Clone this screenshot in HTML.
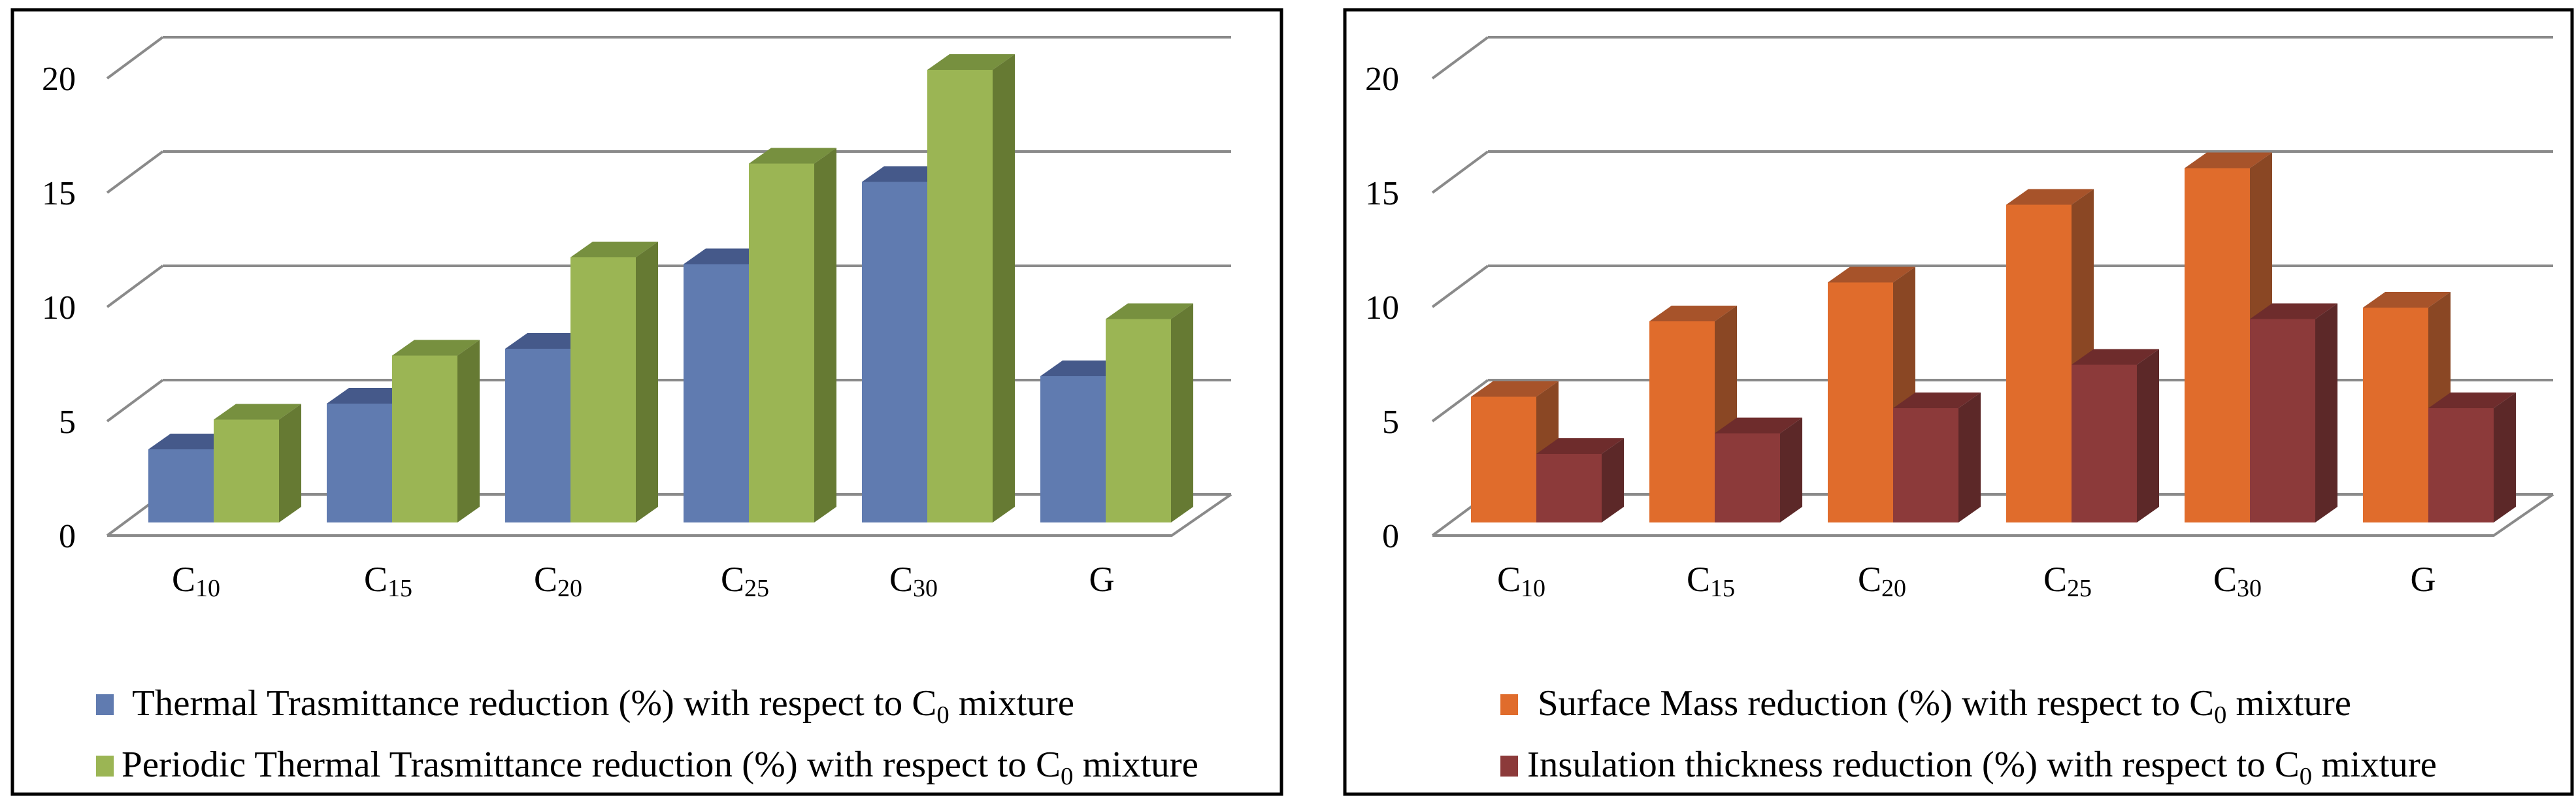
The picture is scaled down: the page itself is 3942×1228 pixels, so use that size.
<!DOCTYPE html>
<html><head><meta charset="utf-8"><style>
html,body{margin:0;padding:0;background:#fff;}
svg{display:block;font-family:"Liberation Serif",serif;}
</style></head><body>
<svg id="svg" width="3942" height="1228" viewBox="0 0 3942 1228"></svg>
<script>
const categories = ["C10","C15","C20","C25","C30","G"];
const catBase = ["C","C","C","C","C","G"];
const catSub = ["10","15","20","25","30",""];
const thermalTrans = [3.2, 5.2, 7.6, 11.3, 14.9, 6.4];
const periodicTrans = [4.5, 7.3, 11.6, 15.7, 19.8, 8.9];
const surfaceMass = [5.5, 8.8, 10.5, 13.9, 15.5, 9.4];
const insulation = [3.0, 3.9, 5.0, 6.9, 8.9, 5.0];
const yTicks = [0, 5, 10, 15, 20];
const yTickLabels = ["0","5","10","15","20"];

const NS = "http://www.w3.org/2000/svg";
const svg = document.getElementById('svg');
function mk(tag, attrs, parent){
  const e = document.createElementNS(NS, tag);
  for (const k in attrs) e.setAttribute(k, attrs[k]);
  (parent||svg).appendChild(e);
  return e;
}
const PX = 35, BASE = 800, DX = 34, DY = 24;
function yScale(v){ return BASE - v*PX; }

function chart(cfg){
  const g = mk('g', {});
  
  
  const border = mk('rect', {x:cfg.bx, y:15, width:cfg.bw, height:1201, fill:'none', stroke:'#000', 'stroke-width':5}, g);
  
  
  const grid = mk('g', {stroke:'#8a8a8a', 'stroke-width':4, fill:'none'}, g);
  
  
  yTicks.forEach((t, i) => {
    const yb = 757 - t*PX;
    mk('line', {x1:cfg.backL, y1:yb, x2:cfg.backR, y2:yb}, grid);
    mk('line', {x1:cfg.backL, y1:yb, x2:cfg.backL-85, y2:yb+63}, grid);
    const lab = mk('text', {x:cfg.tickX, y:yb+63+18, 'text-anchor':'end', 'font-size':52, fill:'#000'}, g);
    lab.textContent = yTickLabels[i];
    
    
  });
  mk('polyline', {points:`${cfg.backL-85},820 ${cfg.backR-91},820 ${cfg.backR},757`}, grid);
  categories.forEach((c, i) => {
    const x0 = cfg.x0 + 273*i;
    [[cfg.s1, cfg.c1], [cfg.s2, cfg.c2]].forEach(([ser, col], j) => {
      const x = x0 + 100*j, w = 100, yt = yScale(ser[i]);
      const bg = mk('g', {}, g);
      
      
      mk('rect', {x:x, y:yt, width:w, height:BASE-yt, fill:col[0]}, bg);
      mk('polygon', {points:`${x},${yt} ${x+DX},${yt-DY} ${x+w+DX},${yt-DY} ${x+w},${yt}`, fill:col[1]}, bg);
      mk('polygon', {points:`${x+w},${yt} ${x+w+DX},${yt-DY} ${x+w+DX},${BASE-DY} ${x+w},${BASE}`, fill:col[2]}, bg);
    });
    const t = mk('text', {x:cfg.labX[i], y:905, 'text-anchor':'middle', 'font-size':54, fill:'#000'}, g);
    
    
    const a = mk('tspan', {}, t); a.textContent = catBase[i];
    if (catSub[i]) { const b = mk('tspan', {'font-size':38, dy:8}, t); b.textContent = catSub[i]; }
  });
  cfg.legend.forEach((L, j) => {
    const lg = mk('g', {}, g);
    
    
    mk('rect', {x:L.sx, y:L.sy, width:27, height:32, fill:j?cfg.c2[0]:cfg.c1[0]}, lg);
    const t = mk('text', {x:L.tx, y:L.sy+32, 'font-size':56, fill:'#000', textLength:L.tw, lengthAdjust:'spacingAndGlyphs'}, lg);
    const p1 = mk('tspan', {}, t); p1.textContent = L.text + 'C';
    const p2 = mk('tspan', {'font-size':38, dy:12}, t); p2.textContent = '0';
    const p3 = mk('tspan', {dy:-12}, t); p3.textContent = ' mixture';
  });
}

chart({name:'left-chart', bx:19, bw:1942, backL:249, backR:1884, tickX:116, x0:227,
  s1:thermalTrans, s2:periodicTrans, keys:['thermal','periodic'],
  c1:['#607bb0','#45598a','#4a5f8e'], c2:['#9bb554','#77903f','#667a33'],
  labX:[300,594,854,1140,1398,1686],
  legend:[{sx:147,sy:1063,tx:202,tw:1442,text:'Thermal Trasmittance reduction (%) with respect to '},
          {sx:147,sy:1157,tx:186,tw:1648,text:'Periodic Thermal Trasmittance reduction (%) with respect to '}]});
chart({name:'right-chart', bx:2058, bw:1878, backL:2277, backR:3907, tickX:2141, x0:2251,
  s1:surfaceMass, s2:insulation, keys:['surface-mass','insulation'],
  c1:['#e06c2c','#a7532a','#8a4724'], c2:['#8c3a3a','#6e2c2c','#5c2828'],
  labX:[2328,2618,2880,3164,3424,3708],
  legend:[{sx:2296,sy:1063,tx:2353,tw:1245,text:'Surface Mass reduction (%) with respect to '},
          {sx:2296,sy:1157,tx:2337,tw:1392,text:'Insulation thickness reduction (%) with respect to '}]});
</script>
</body></html>
